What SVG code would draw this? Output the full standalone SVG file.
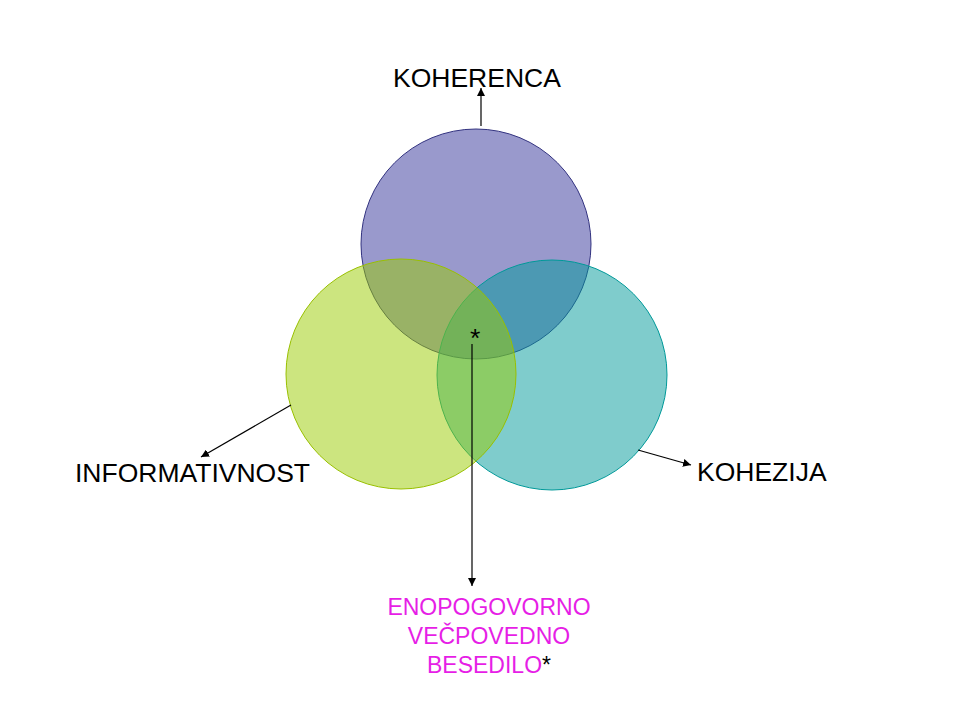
<svg xmlns="http://www.w3.org/2000/svg" width="960" height="720" viewBox="0 0 960 720">
<style>
.lbl{font-family:"Liberation Sans",Arial,sans-serif;font-size:26.5px;fill:#000}
.mag{font-family:"Liberation Sans",Arial,sans-serif;font-size:23px;fill:#e61ee6;text-anchor:middle}
.conn{stroke:#000;stroke-width:1.2;fill:none;marker-end:url(#ah)}
</style>
<defs>
<marker id="ah" viewBox="0 0 10 10" refX="10" refY="5" markerWidth="8" markerHeight="8" markerUnits="userSpaceOnUse" orient="auto">
<path d="M0,0 L10,5 L0,10 z" fill="#000"/>
</marker>
</defs>
<rect width="960" height="720" fill="#fff"/>
<g id="koherenca">
<circle cx="476" cy="244" r="115" fill="#333399" fill-opacity="0.5" stroke="#333380" stroke-width="1"/>
<text class="lbl" x="393" y="87">KOHERENCA</text>
</g>
<g id="kohezija">
<circle cx="552" cy="375" r="115" fill="#009999" fill-opacity="0.5" stroke="#009999" stroke-width="1"/>
<text class="lbl" x="697" y="481">KOHEZIJA</text>
</g>
<g id="informativnost">
<circle cx="401" cy="374" r="115" fill="#99cc00" fill-opacity="0.5" stroke="#99c000" stroke-width="1"/>
<text class="lbl" x="75" y="482">INFORMATIVNOST</text>
</g>
<g id="center">
<text class="lbl" x="470" y="347">*</text>
</g>
<g id="besedilo">
<text class="mag" x="489" y="615">ENOPOGOVORNO</text>
<text class="mag" x="489" y="644">VEČPOVEDNO</text>
<text class="mag" x="489" y="673">BESEDILO<tspan fill="#000">*</tspan></text>
</g>
<g id="connectors">
<line class="conn" x1="481" y1="126" x2="481" y2="88"/>
<line class="conn" x1="291" y1="405" x2="201" y2="457"/>
<line class="conn" x1="638" y1="450" x2="691" y2="465"/>
<line class="conn" x1="472" y1="344" x2="472" y2="586"/>
</g>
</svg>
